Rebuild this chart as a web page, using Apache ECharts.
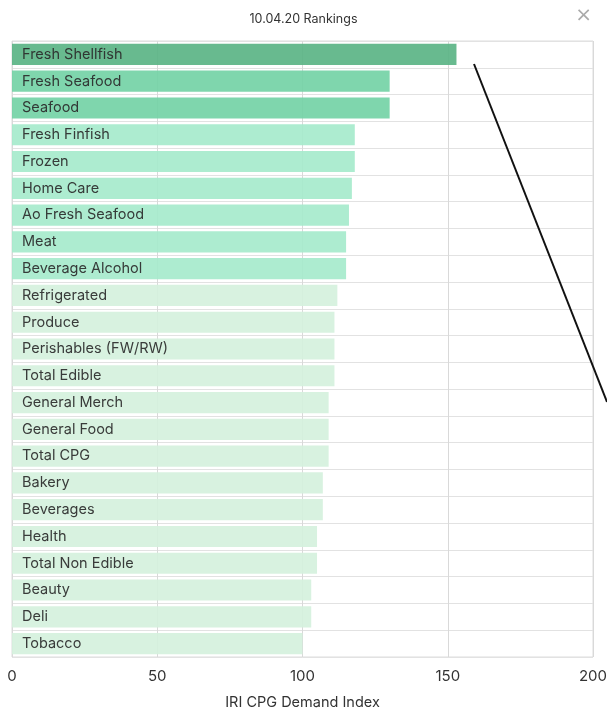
<!DOCTYPE html>
<html>
<head>
<meta charset="utf-8">
<script src="https://cdn.jsdelivr.net/npm/echarts@6/dist/echarts.min.js"></script>
<style>
  html, body { margin: 0; padding: 0; background: #fff; }
  #chart { width: 607px; height: 710px; }
</style>
</head>
<body>
<div id="chart"></div>
<script>
// Category rankings, top to bottom
const categories = [
  'Fresh Shellfish', 'Fresh Seafood', 'Seafood', 'Fresh Finfish', 'Frozen',
  'Home Care', 'Ao Fresh Seafood', 'Meat', 'Beverage Alcohol', 'Refrigerated',
  'Produce', 'Perishables (FW/RW)', 'Total Edible', 'General Merch', 'General Food',
  'Total CPG', 'Bakery', 'Beverages', 'Health', 'Total Non Edible',
  'Beauty', 'Deli', 'Tobacco'
];
// IRI CPG Demand Index per category
const demandIndex = [
  153, 130, 130, 118, 118,
  117, 116, 115, 115, 112,
  111, 111, 111, 109, 109,
  109, 107, 107, 105, 105,
  103, 103, 100
];
const xTicks = [0, 50, 100, 150, 200];

// Shade bands by index level
function shade(v) {
  if (v >= 150) return '#5bb485';
  if (v >= 125) return '#74d3a6';
  if (v >= 113) return '#a6eacc';
  return '#d5f1dd';
}

const FONT = 'Inter';
const chart = echarts.init(document.getElementById('chart'));
chart.setOption({
  animation: false,
  backgroundColor: '#fff',
  textStyle: { fontFamily: FONT },
  title: {
    text: '10.04.20 Rankings',
    left: 'center',
    top: 8,
    textStyle: { fontFamily: FONT, fontSize: 12.5, fontWeight: 'normal', color: '#333' }
  },
  grid: {
    left: 12, right: 14, top: 41, bottom: 53,
    outerBoundsMode: 'none',
    show: true, borderColor: '#dcdcdc', borderWidth: 1
  },
  xAxis: {
    type: 'value',
    min: xTicks[0], max: xTicks[xTicks.length - 1], interval: 50,
    name: 'IRI CPG Demand Index',
    nameLocation: 'middle',
    nameGap: 38,
    nameTextStyle: { fontFamily: FONT, fontSize: 14.5, color: '#333' },
    axisLine: { show: false },
    axisTick: { show: false },
    axisLabel: { fontFamily: FONT, fontSize: 15, color: '#333', margin: 12 },
    splitLine: { show: true, lineStyle: { color: '#d9d9d9', width: 1 } }
  },
  yAxis: {
    type: 'category',
    data: categories,
    inverse: true,
    axisLine: { show: false },
    axisTick: { show: false },
    axisLabel: { show: false },
    splitLine: { show: true, lineStyle: { color: '#e2e2e2', width: 1 } }
  },
  series: [{
    type: 'bar',
    barCategoryGap: '21%',
    data: demandIndex.map(v => ({ value: v, itemStyle: { color: shade(v), opacity: 0.92 } })),
    label: {
      show: true,
      position: 'insideLeft',
      distance: 10,
      formatter: p => p.name,
      fontFamily: FONT,
      fontSize: 14.5,
      color: '#2b2b2b'
    }
  }],
  graphic: [
    {
      type: 'text',
      right: 15,
      top: 6,
      style: { text: '×', fontSize: 20, fill: '#aaa', fontFamily: 'DejaVu Sans' }
    },
    {
      type: 'line',
      shape: { x1: 474, y1: 64, x2: 607, y2: 402 },
      style: { stroke: '#111', lineWidth: 2 },
      z: 100
    }
  ]
});
</script>
</body>
</html>
